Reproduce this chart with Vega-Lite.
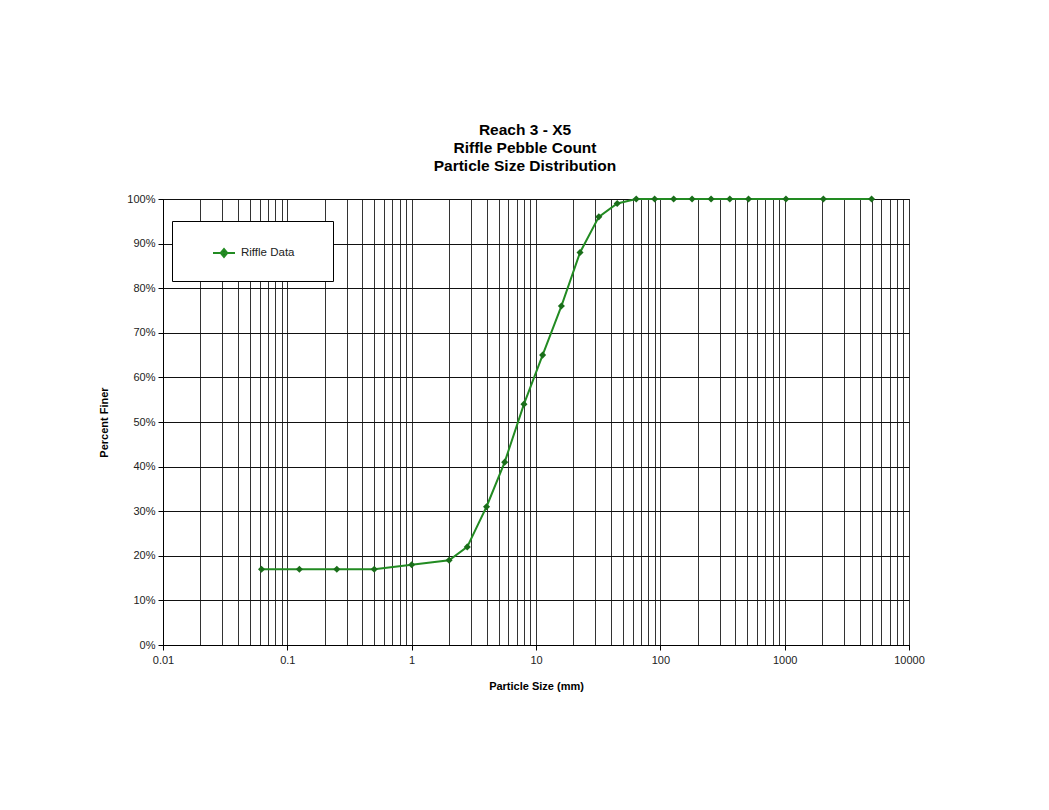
{
  "$schema": "https://vega.github.io/schema/vega-lite/v6.json",
  "autosize": {"type": "none"},
  "width": 746,
  "height": 446,
  "padding": {"left": 163, "top": 199, "right": 140, "bottom": 165},
  "background": "white",
  "config": {
    "font": "Liberation Sans",
    "view": {"stroke": "black", "strokeWidth": 1}
  },
  "title": {
    "text": ["Reach 3 - X5", "Riffle Pebble Count", "Particle Size Distribution"],
    "fontSize": 15.5,
    "fontWeight": "bold",
    "lineHeight": 18,
    "anchor": "middle",
    "dx": -11,
    "offset": 19,
    "color": "black"
  },
  "data": {
    "values": [
      {"size": 0.062, "finer": 0.17, "series": "Riffle Data"},
      {"size": 0.125, "finer": 0.17, "series": "Riffle Data"},
      {"size": 0.25, "finer": 0.17, "series": "Riffle Data"},
      {"size": 0.5, "finer": 0.17, "series": "Riffle Data"},
      {"size": 1, "finer": 0.18, "series": "Riffle Data"},
      {"size": 2, "finer": 0.19, "series": "Riffle Data"},
      {"size": 2.8, "finer": 0.22, "series": "Riffle Data"},
      {"size": 4, "finer": 0.31, "series": "Riffle Data"},
      {"size": 5.6, "finer": 0.41, "series": "Riffle Data"},
      {"size": 8, "finer": 0.54, "series": "Riffle Data"},
      {"size": 11.3, "finer": 0.65, "series": "Riffle Data"},
      {"size": 16, "finer": 0.76, "series": "Riffle Data"},
      {"size": 22.6, "finer": 0.88, "series": "Riffle Data"},
      {"size": 32, "finer": 0.96, "series": "Riffle Data"},
      {"size": 45, "finer": 0.99, "series": "Riffle Data"},
      {"size": 64, "finer": 1.0, "series": "Riffle Data"},
      {"size": 90, "finer": 1.0, "series": "Riffle Data"},
      {"size": 128, "finer": 1.0, "series": "Riffle Data"},
      {"size": 180, "finer": 1.0, "series": "Riffle Data"},
      {"size": 256, "finer": 1.0, "series": "Riffle Data"},
      {"size": 362, "finer": 1.0, "series": "Riffle Data"},
      {"size": 512, "finer": 1.0, "series": "Riffle Data"},
      {"size": 1024, "finer": 1.0, "series": "Riffle Data"},
      {"size": 2048, "finer": 1.0, "series": "Riffle Data"},
      {"size": 5000, "finer": 1.0, "series": "Riffle Data"}
    ]
  },
  "encoding": {
    "x": {
      "field": "size",
      "type": "quantitative",
      "scale": {"type": "log", "domain": [0.01, 10000], "nice": false},
      "axis": {
        "title": "Particle Size (mm)",
        "titleFontSize": 11,
        "titleFontWeight": "bold",
        "titleColor": "black",
        "titlePadding": 15,
        "values": [0.01,0.02,0.03,0.04,0.05,0.06,0.07,0.08,0.09,0.1,0.2,0.3,0.4,0.5,0.6,0.7,0.8,0.9,1,2,3,4,5,6,7,8,9,10,20,30,40,50,60,70,80,90,100,200,300,400,500,600,700,800,900,1000,2000,3000,4000,5000,6000,7000,8000,9000,10000],
        "labelExpr": "abs(log(datum.value)/LN10 - round(log(datum.value)/LN10)) < 0.000001 ? format(datum.value, '~g') : ''",
        "labelFontSize": 11,
        "labelColor": "#222",
        "labelPadding": 4,
        "labelOverlap": false,
        "labelFlush": false,
        "grid": true,
        "gridColor": "#333",
        "gridOpacity": 1,
        "gridWidth": 1,
        "tickColor": "black",
        "tickSize": 5,
        "tickOpacity": {"condition": {"test": "abs(log(datum.value)/LN10 - round(log(datum.value)/LN10)) < 0.000001", "value": 1}, "value": 0},
        "domainColor": "black"
      }
    },
    "y": {
      "field": "finer",
      "type": "quantitative",
      "scale": {"domain": [0, 1], "nice": false},
      "axis": {
        "title": "Percent Finer",
        "titleFontSize": 11,
        "titleFontWeight": "bold",
        "titleColor": "black",
        "titlePadding": 17,
        "format": ".0%",
        "values": [0,0.1,0.2,0.3,0.4,0.5,0.6,0.7,0.8,0.9,1],
        "labelFontSize": 11,
        "labelColor": "#222",
        "labelPadding": 3,
        "grid": true,
        "gridColor": "#111",
        "gridOpacity": 1,
        "tickColor": "black",
        "tickSize": 5,
        "domainColor": "black"
      }
    }
  },
  "layer": [
    {
      "mark": {"type": "line", "strokeWidth": 2},
      "encoding": {
        "color": {
          "field": "series",
          "type": "nominal",
          "scale": {"range": ["#228b22"]},
          "legend": {
            "title": "\u00a0",
            "titleOrient": "right",
            "titlePadding": 19,
            "titleFontSize": 11,
            "orient": "none",
            "legendX": 9,
            "legendY": 22,
            "padding": 20,
            "strokeColor": "black",
            "fillColor": "white",
            "symbolType": "M-1,0H1M-0.3,0L0,-0.35L0.3,0L0,0.35Z",
            "symbolSize": 484,
            "symbolStrokeWidth": 2,
            "symbolStrokeColor": "#228b22",
            "symbolFillColor": "#1a6e1a",
            "symbolOffset": 20,
            "labelFontSize": 11.5,
            "labelOffset": 5,
            "labelColor": "#222"
          }
        }
      }
    },
    {
      "mark": {"type": "point", "shape": "diamond", "filled": true, "size": 50, "color": "#1a6e1a", "opacity": 1},
      "encoding": {}
    }
  ]
}
